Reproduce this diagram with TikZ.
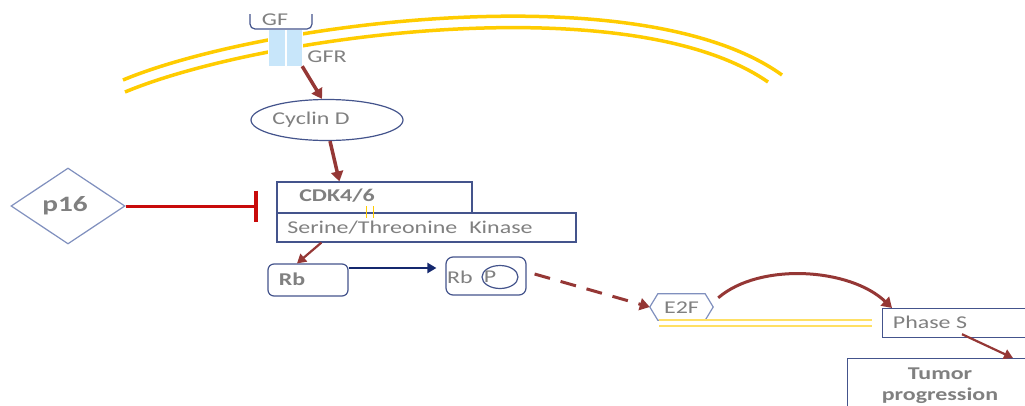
\documentclass[tikz,border=0pt]{standalone}
\usepackage{fontspec}
\setmainfont{Carlito}
\usetikzlibrary{arrows.meta,shapes.geometric,calc}
\definecolor{arrowred}{RGB}{149,55,53}
\definecolor{inhred}{RGB}{200,10,10}
\definecolor{boxblue}{RGB}{68,84,140}
\definecolor{lightbox}{RGB}{128,144,190}
\definecolor{txtgray}{RGB}{128,128,128}
\definecolor{memyellow}{RGB}{255,204,0}
\definecolor{paleyellow}{RGB}{255,224,100}
\definecolor{gfrblue}{RGB}{200,230,250}
\definecolor{navyarrow}{RGB}{20,40,110}
\newcommand\sx[1]{\scalebox{1.33}[1]{#1}}
\begin{document}
\begin{tikzpicture}[x=1pt,y=-1pt,
  txt/.style={text=txtgray,font=\fontsize{18}{20}\selectfont,inner sep=0pt},
  btxt/.style={text=txtgray,font=\fontsize{18}{20}\selectfont\bfseries,inner sep=0pt},
  box/.style={draw=boxblue,line width=1.2pt,inner sep=0pt},
  lbox/.style={draw=lightbox,line width=1.2pt,inner sep=0pt},
  redarrow/.style={draw=arrowred,line width=3.5pt,-{Triangle[length=10pt,width=12pt]}},
  thinred/.style={draw=arrowred,line width=2.2pt,-{Triangle[length=9pt,width=10pt]}},
  membrane/.style={draw=memyellow,line width=3.5pt},
  cross/.style={draw=paleyellow,line width=1.5pt}
]
\clip (0,0) rectangle (1025,405);
\fill[white] (0,0) rectangle (1025,405);

% membrane
\draw[membrane] (123,80) .. controls (260,23) and (640,-27) .. (782,75);
\draw[membrane] (125,92) .. controls (262,35) and (630,-14) .. (768,82);

% GF / GFR
\fill[white] (268,29) rectangle (303,67);
\node[fill=gfrblue,minimum width=16pt,minimum height=36pt,inner sep=0pt] (gfra) at (277,48) {};
\node[fill=gfrblue,minimum width=15pt,minimum height=36pt,inner sep=0pt] (gfrb) at (294.5,48) {};
\draw[boxblue,line width=1.2pt,rounded corners=5pt] (250,14) -- (250,29) -- (312,29) -- (312,14);
\node[txt] (gf) at (275,20) {\sx{GF}};
\node[txt] (gfr) at (327,57) {\sx{GFR}};

% Cyclin D
\node[box,ellipse,minimum width=152pt,minimum height=41pt] (cyc) at (327,120) {};
\node[txt] (cyct) at (311,120) {\sx{Cyclin D}};

% CDK
\node[box,minimum width=195pt,minimum height=31pt] (cdk) at (374.5,197.5) {};
\node[box,minimum width=299pt,minimum height=29pt] (stk) at (426.5,227.5) {};
\node[btxt] (cdkt) at (337,196) {\sx{CDK4/6}};
\node[txt] (stkt) at (410,228) {\sx{Serine/Threonine\hspace{5pt} Kinase}};
\draw[memyellow,line width=1pt] (366,206) -- (366,218) (373,206) -- (373,218);

% p16
\node[lbox,diamond,aspect=1.5,minimum width=114pt,minimum height=76pt] (p16) at (68,206) {};
\node[btxt,font=\fontsize{22}{24}\selectfont\bfseries] (p16t) at (65,206) {\sx{p16}};

% Rb
\node[box,rounded corners=6pt,minimum width=80pt,minimum height=32pt] (rb) at (308,280) {};
\node[btxt] (rbt) at (292,279) {\sx{Rb}};
\node[box,rounded corners=7pt,minimum width=80pt,minimum height=38pt] (rbp) at (486,276) {};
\node[txt] (rbpt) at (460,277) {\sx{Rb}};
\node[box,ellipse,minimum width=36pt,minimum height=23pt] (pcirc) at (500,277) {};
\node[txt] (pt) at (490,277) {\sx{P}};

% E2F
\node[minimum width=63pt,minimum height=26pt,inner sep=0pt] (e2f) at (681.5,307) {};
\draw[lbox] (e2f.west) -- ($(e2f.north west)+(8,0)$) -- ($(e2f.north east)+(-8,0)$) -- (e2f.east)
  -- ($(e2f.south east)+(-8,0)$) -- ($(e2f.south west)+(8,0)$) -- cycle;
\node[txt] (e2ft) at (681.5,308) {\sx{E2F}};
\draw[cross] (659,320) -- (872,320) (659,326) -- (872,326);

% Phase S and tumor
\node[box,anchor=north west,minimum width=170pt,minimum height=29pt] (phs) at (882,308) {};
\node[txt] (phst) at (930,322) {\sx{Phase S}};
\node[box,anchor=north west,minimum width=200pt,minimum height=80pt] (tum) at (847,358) {};
\node[btxt] (tumt1) at (940,374) {\sx{Tumor}};
\node[btxt] (tumt2) at (940,396) {\sx{progression}};

% connectors
\draw[redarrow] (gfrb.south east) -- ($(cyc.north)+(-5,0)$);
\draw[redarrow] ($(cyc.south)+(3,0)$) -- ($(cdk.north west)+(63,0)$);
\draw[thinred] ($(stk.south west)+(45,0)$) -- ($(rb.north)+(-11,0)$);
\draw[navyarrow,line width=2.5pt,-{Triangle[length=9pt,width=10pt]}] ($(rb.east)+(0,-12)$) -- ($(rbp.west)+(-9,-8)$);
\draw[redarrow,line width=3pt,dash pattern=on 16pt off 11pt] ($(rbp.east)+(8,-2)$) -- (e2f.west);
\draw[inhred,line width=3pt,-{Bar[width=31pt,line width=4pt]}] (p16.east) -- ($(cdk.west|-p16.east)+(-18,0)$);
\draw[redarrow,line width=3pt] ($(e2f.north east)+(5,4)$) .. controls (760,262) and (850,268) .. ($(phs.north west)+(10,0)$);
\draw[thinred] ($(phs.south west)+(80,-4)$) -- ($(tum.north west)+(166,0)$);
\end{tikzpicture}
\end{document}
